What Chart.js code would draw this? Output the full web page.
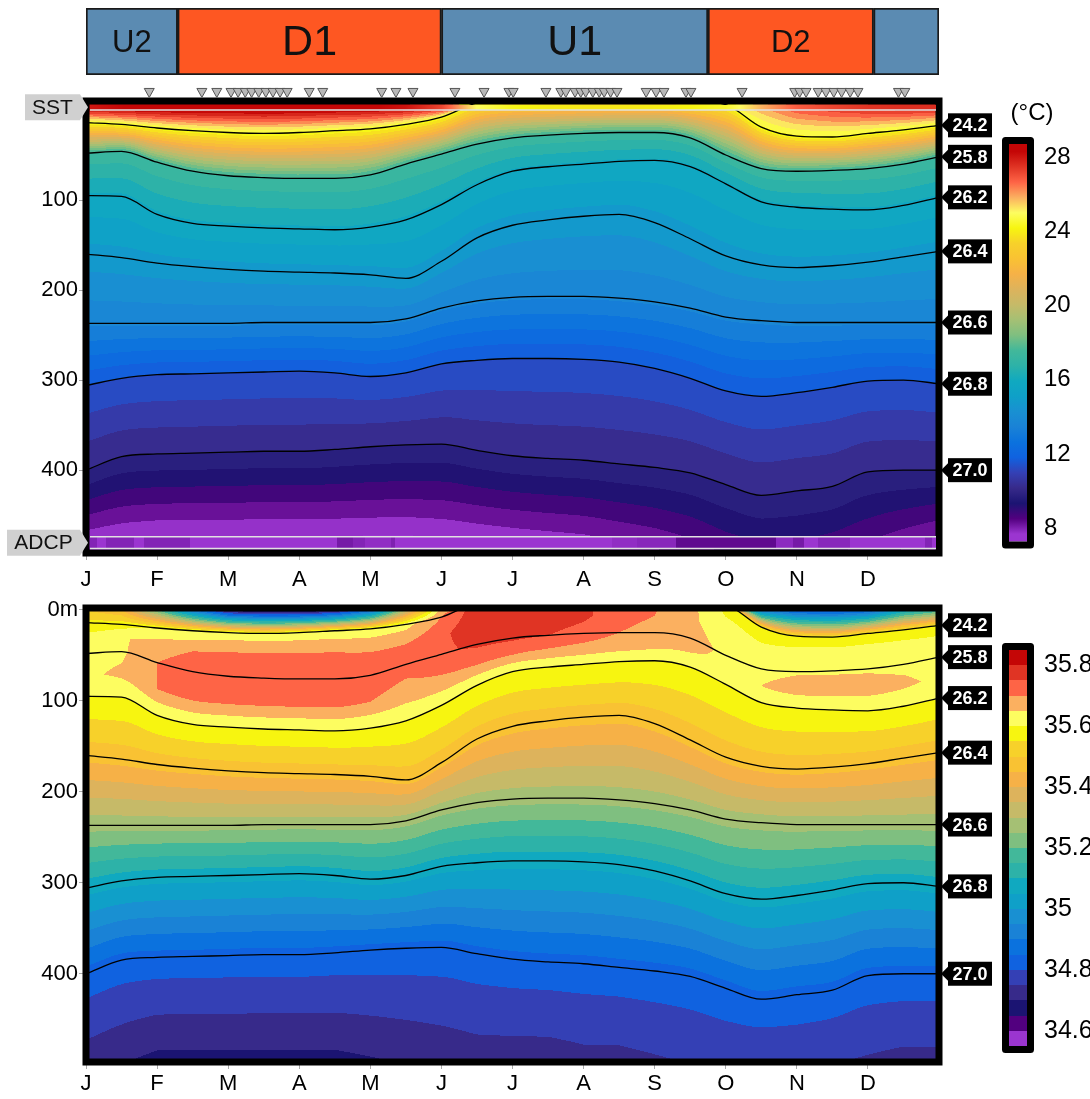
<!DOCTYPE html>
<html>
<head>
<meta charset="utf-8">
<title>Seasonal temperature and salinity section</title>
<script src="https://cdn.jsdelivr.net/npm/chart.js@4.4.1/dist/chart.umd.min.js"></script>
<style>
  body { margin: 0; background: #fff; }
  #wrap { position: relative; width: 1090px; height: 1099px; overflow: hidden; }
  #wrap canvas { position: absolute; }
</style>
</head>
<body>
<div id="wrap">
  <canvas id="phaseBar" width="1090" height="85" style="left:0px;top:0px"></canvas>
  <canvas id="tempPanel" width="1090" height="520" style="left:0px;top:80px"></canvas>
  <canvas id="saltPanel" width="1090" height="509" style="left:0px;top:590px"></canvas>
  <canvas id="tempBar" width="100" height="470" style="left:990px;top:95px"></canvas>
  <canvas id="saltBar" width="100" height="470" style="left:990px;top:600px"></canvas>
</div>
<script>
const FONT = "'Liberation Sans', Arial, Helvetica, sans-serif";
Chart.defaults.font.family = FONT;
Chart.defaults.color = '#000';

// ---- data ----
const monthLabels = ['J', 'F', 'M', 'A', 'M', 'J', 'J', 'A', 'S', 'O', 'N', 'D'];
// half-month nodes, in months from 1 Jan
const nodeMonths = [0, 0.5, 1, 1.5, 2, 2.5, 3, 3.5, 4, 4.5, 5, 5.5, 6, 6.5, 7, 7.5, 8, 8.5, 9, 9.5, 10, 10.5, 11, 11.5, 12];

// isopycnal depths (m); 24.2 sits above the surface (outcrops) Jun-Sep
const isoLabels = ['24.2', '25.8', '26.2', '26.4', '26.6', '26.8', '27.0'];
const iso242 = [14, 16, 20, 23, 25, 26, 25, 23, 21, 16, 8, -8, -12, -12, -12, -12, -12, -10, -6, 19, 29, 30, 26, 22, 17];
const iso258 = [48, 46, 58, 68, 73, 75, 76, 76, 72, 60, 49, 38, 31, 28, 26, 25, 25, 31, 50, 65, 68, 67, 65, 60, 52];
const iso262 = [95, 96, 116, 126, 129, 131, 132, 133, 130, 122, 105, 83, 68, 63, 60, 57, 56, 63, 82, 102, 108, 110, 111, 106, 97];
const iso264 = [160, 164, 170, 174, 177, 179, 180, 181, 183, 187, 168, 142, 128, 122, 118, 116, 125, 143, 162, 172, 175, 173, 169, 163, 157];
const iso266 = [237, 237, 237, 237, 237, 236, 236, 236, 236, 232, 220, 212, 208, 207, 207, 209, 213, 220, 230, 234, 236, 236, 236, 236, 236];
const iso268 = [306, 298, 294, 293, 292, 291, 290, 292, 296, 292, 282, 278, 276, 276, 277, 280, 287, 298, 312, 318, 314, 308, 301, 300, 304];
const iso270 = [400, 385, 382, 381, 380, 379, 379, 377, 374, 372, 371, 378, 384, 387, 389, 393, 397, 403, 416, 428, 423, 418, 402, 400, 400];
const isoSeries = [iso242, iso258, iso262, iso264, iso266, iso268, iso270];

// temperature (°C)
const sst = [28.0, 28.3, 28.5, 28.6, 28.6, 28.7, 28.6, 28.5, 28.4, 28.1, 27.2, 25.0, 24.3, 24.0, 23.9, 23.9, 24.0, 24.2, 24.5, 25.8, 26.8, 27.2, 27.5, 27.6, 27.6];
const isoTemp = [24.4, 17.4, 15.9, 14.8, 13.6, 11.5, 10.0];
const bottomTemp = [7.0, 6.9, 6.8, 6.8, 6.8, 6.8, 6.8, 6.8, 6.8, 6.8, 6.9, 7.0, 7.1, 7.2, 7.3, 7.5, 7.7, 8.0, 8.4, 8.6, 8.6, 8.4, 8.1, 7.7, 7.3];

// salinity
const surfSalt = [35.50, 35.45, 35.20, 34.90, 34.65, 34.60, 34.60, 34.65, 34.85, 35.30, 35.68, 35.74, 35.78, 35.78, 35.77, 35.74, 35.71, 35.66, 35.50, 34.90, 34.80, 34.78, 34.82, 35.05, 35.15];
const salt242 = [35.56, 35.58, 35.60, 35.61, 35.62, 35.62, 35.62, 35.62, 35.62, 35.63, 35.70, 35.77, 35.78, 35.78, 35.76, 35.73, 35.71, 35.67, 35.58, 35.57, 35.57, 35.57, 35.57, 35.57, 35.56];
const saltMidA = [35.62, 35.64, 35.68, 35.70, 35.71, 35.71, 35.71, 35.71, 35.70, 35.70, 35.74, 35.78, 35.78, 35.78, 35.76, 35.72, 35.70, 35.66, 35.62, 35.61, 35.62, 35.62, 35.62, 35.62, 35.62];
const salt258 = [35.63, 35.64, 35.70, 35.73, 35.74, 35.74, 35.74, 35.74, 35.73, 35.72, 35.74, 35.76, 35.76, 35.75, 35.73, 35.70, 35.68, 35.67, 35.64, 35.64, 35.645, 35.645, 35.645, 35.64, 35.63];
const saltMidB = [35.64, 35.66, 35.70, 35.71, 35.71, 35.71, 35.71, 35.71, 35.70, 35.68, 35.69, 35.70, 35.70, 35.69, 35.68, 35.67, 35.66, 35.65, 35.64, 35.65, 35.67, 35.67, 35.67, 35.66, 35.64];
const deepSalt = [35.60, 35.47, 35.27, 35.07, 34.83]; // on 26.2 .. 27.0
const bottomSalt = [34.72, 34.70, 34.68, 34.68, 34.68, 34.68, 34.68, 34.68, 34.69, 34.70, 34.71, 34.72, 34.72, 34.72, 34.73, 34.73, 34.74, 34.75, 34.76, 34.76, 34.76, 34.75, 34.74, 34.73, 34.73];

// profile casts (triangles) and the ADCP-depth temperature record
const castMonths = [0.89, 1.63, 1.84, 2.04, 2.14, 2.24, 2.33, 2.43, 2.53, 2.63, 2.73, 2.83, 3.14, 3.33, 4.16, 4.36, 4.60,
  5.19, 5.60, 5.95, 6.01, 6.47, 6.68, 6.75, 6.88, 6.96, 7.03, 7.13, 7.22, 7.29, 7.38, 7.47, 7.88, 8.02, 8.13, 8.44, 8.51,
  9.23, 9.97, 10.04, 10.13, 10.30, 10.41, 10.52, 10.63, 10.75, 10.86, 11.43, 11.52];
const adcpEdges = [0, 0.15, 0.28, 0.68, 0.82, 1.46, 3.53, 3.75, 3.92, 4.29, 4.35, 7.4, 7.75, 8.3, 9.7, 9.95, 10.1, 10.3, 10.75, 11.8, 11.9, 12];
const adcpTemp = [7.95, 7.5, 7.95, 7.5, 7.95, 7.45, 8.1, 7.95, 7.8, 8.0, 7.45, 7.8, 7.9, 8.35, 7.85, 8.1, 7.5, 7.9, 7.45, 7.95, 7.45];

// monsoon phases
const phaseNames = ['U2', 'D1', 'U1', 'D2', ''];
const phaseStart = [0, 1.29, 5.0, 8.75, 11.08];
const phaseEnd = [1.29, 5.0, 8.75, 11.08, 12];

const depthTicks = [0, 100, 200, 300, 400];
const tempTicks = [8, 12, 16, 20, 24, 28];
const saltTicks = [34.6, 34.8, 35, 35.2, 35.4, 35.6, 35.8];

// ---- colour scale ----
const palette = ['#9b35d0', '#52007f', '#1b1472', '#372a8a', '#3440b5', '#1062e0', '#0b72de', '#1a82d6', '#1990d2',
  '#0fa0c8', '#10a9c0', '#2db2a8', '#42b89a', '#7fbf80', '#a5c074', '#c6ba68', '#ddb35c', '#f6b147', '#f9c233',
  '#f7d12a', '#f7f510', '#fdfd60', '#fbb060', '#fe6446', '#e03424', '#c40606'];
const palRGB = palette.map(h => [parseInt(h.slice(1, 3), 16), parseInt(h.slice(3, 5), 16), parseInt(h.slice(5, 7), 16)]);
const TEMP_LO = 7.27, TEMP_HI = 28.73, SALT_LO = 34.55, SALT_HI = 35.85;

function tempColor(v) {
  let p = (v - TEMP_LO) / (TEMP_HI - TEMP_LO) * 26 - 0.5;
  p = Math.max(0, Math.min(25, p));
  const k = Math.min(24, Math.floor(p)), u = p - k;
  const a = palRGB[k], b = palRGB[k + 1];
  return [a[0] + (b[0] - a[0]) * u, a[1] + (b[1] - a[1]) * u, a[2] + (b[2] - a[2]) * u];
}
function saltColor(v) {
  const k = Math.max(0, Math.min(25, Math.floor((v - SALT_LO) / 0.05 + 1e-6)));
  return palRGB[k];
}
const rgb = c => `rgb(${Math.round(c[0])},${Math.round(c[1])},${Math.round(c[2])})`;

// ---- interpolation helpers ----
function lerpNodes(arr, m) {
  const t = m / 0.5;
  const k = Math.min(arr.length - 2, Math.max(0, Math.floor(t)));
  const f = t - k;
  return arr[k] * (1 - f) + arr[k + 1] * f;
}
// monotone cubic, same idea as Chart.js 'monotone' lines
function makeSpline(ys) {
  const n = ys.length, h = 0.5, dk = [], mk = new Array(n);
  for (let k = 0; k < n - 1; k++) dk.push((ys[k + 1] - ys[k]) / h);
  mk[0] = dk[0]; mk[n - 1] = dk[n - 2];
  for (let k = 1; k < n - 1; k++) mk[k] = dk[k - 1] * dk[k] <= 0 ? 0 : (dk[k - 1] + dk[k]) / 2;
  for (let k = 0; k < n - 1; k++) {
    if (dk[k] === 0) { mk[k] = 0; mk[k + 1] = 0; continue; }
    const a = mk[k] / dk[k], b = mk[k + 1] / dk[k], s = a * a + b * b;
    if (s > 9) { const t = 3 / Math.sqrt(s); mk[k] = t * a * dk[k]; mk[k + 1] = t * b * dk[k]; }
  }
  return m => {
    const k = Math.min(n - 2, Math.max(0, Math.floor(m / h)));
    const t = (m - k * h) / h, t2 = t * t, t3 = t2 * t;
    return (2 * t3 - 3 * t2 + 1) * ys[k] + (t3 - 2 * t2 + t) * h * mk[k] +
      (-2 * t3 + 3 * t2) * ys[k + 1] + (t3 - t2) * h * mk[k + 1];
  };
}
const isoSpl = isoSeries.map(makeSpline);
const clampM = m => Math.min(12, Math.max(0, m));

function pushNode(nodes, d, v) {
  if (!nodes.length || d > nodes[nodes.length - 1].d + 0.5) nodes.push({ d, v });
}
// the surface value only counts while the shallowest isopycnal is below the surface
function withSurface(nodes, v0) {
  if (nodes[0].d > 0) nodes.unshift({ d: 0, v: v0 });
  return nodes;
}
function tempNodes(m) {
  const nodes = [];
  isoSpl.forEach((f, k) => pushNode(nodes, f(m), isoTemp[k]));
  pushNode(nodes, 500, lerpNodes(bottomTemp, m));
  return withSurface(nodes, lerpNodes(sst, m));
}
function saltNodes(m) {
  const d = isoSpl.map(f => f(m));
  const nodes = [];
  pushNode(nodes, d[0], lerpNodes(salt242, m));
  pushNode(nodes, (d[0] + d[1]) / 2, lerpNodes(saltMidA, m));
  pushNode(nodes, d[1], lerpNodes(salt258, m));
  pushNode(nodes, (d[1] + d[2]) / 2, lerpNodes(saltMidB, m));
  for (let k = 2; k < 7; k++) pushNode(nodes, d[k], deepSalt[k - 2]);
  pushNode(nodes, 500, lerpNodes(bottomSalt, m));
  return withSurface(nodes, lerpNodes(surfSalt, m));
}
function profileAt(nodes, d) {
  if (d <= nodes[0].d) return nodes[0].v;
  for (let k = 1; k < nodes.length; k++) {
    if (d <= nodes[k].d) {
      const a = nodes[k - 1], b = nodes[k];
      return a.v + (b.v - a.v) * (d - a.d) / (b.d - a.d);
    }
  }
  return nodes[nodes.length - 1].v;
}

// ---- plugins ----
function fieldPlugin(kind) {
  return {
    id: 'field',
    beforeDatasetsDraw(chart) {
      const { ctx, chartArea: a, scales: { x, y } } = chart;
      const W = Math.ceil(a.right - a.left), H = Math.ceil(a.bottom - a.top);
      const img = ctx.createImageData(W, H);
      for (let i = 0; i < W; i++) {
        const m = clampM(x.getValueForPixel(a.left + i + 0.5));
        const nodes = kind === 'temp' ? tempNodes(m) : saltNodes(m);
        for (let j = 0; j < H; j++) {
          const v = profileAt(nodes, y.getValueForPixel(a.top + j + 0.5));
          const c = kind === 'temp' ? tempColor((Math.floor(v / 0.5) + 0.5) * 0.5) : saltColor(v);
          const p = (j * W + i) * 4;
          img.data[p] = c[0]; img.data[p + 1] = c[1]; img.data[p + 2] = c[2]; img.data[p + 3] = 255;
        }
      }
      const off = document.createElement('canvas');
      off.width = W; off.height = H;
      off.getContext('2d').putImageData(img, 0, 0);
      ctx.drawImage(off, a.left, a.top);
      ctx.save();
      ctx.lineWidth = 7; ctx.strokeStyle = '#000';
      ctx.strokeRect(a.left, a.top, a.right - a.left, a.bottom - a.top);
      ctx.restore();
    }
  };
}

const surfaceStrips = {
  id: 'surfaceStrips',
  afterDatasetsDraw(chart) {
    const { ctx, chartArea: a, scales: { x, y } } = chart;
    const inL = Math.round(a.left + 3.5), inR = Math.round(a.right - 3.5), top = Math.round(a.top + 3.5);
    const y0 = y.getPixelForValue(0);
    ctx.save();
    for (let px = inL; px < inR; px++) {
      ctx.fillStyle = rgb(tempColor(lerpNodes(sst, clampM(x.getValueForPixel(px + 0.5)))));
      ctx.fillRect(px, top, 1, y0 - top);
    }
    const yA = y.getPixelForValue(474), yB = y.getPixelForValue(487);
    for (let s = 0; s < adcpTemp.length; s++) {
      const x0 = Math.max(inL, Math.round(x.getPixelForValue(adcpEdges[s])));
      const x1 = Math.min(inR, Math.round(x.getPixelForValue(adcpEdges[s + 1])));
      ctx.fillStyle = rgb(tempColor(adcpTemp[s]));
      ctx.fillRect(x0, yA, x1 - x0, yB - yA);
    }
    ctx.strokeStyle = '#e2e2e2'; ctx.lineWidth = 1.5;
    [y0, yA, yB].forEach(py => { ctx.beginPath(); ctx.moveTo(inL, py); ctx.lineTo(inR, py); ctx.stroke(); });
    ctx.restore();
  },
  afterDraw(chart) {
    const { ctx, chartArea: a, scales: { x, y } } = chart;
    const tag = (text, yv, x0) => {
      const py = y.getPixelForValue(yv), x1 = a.left - 6, tip = a.left + 2;
      ctx.fillStyle = '#d0d0d0';
      ctx.beginPath();
      ctx.moveTo(x0, py - 13); ctx.lineTo(x1, py - 13); ctx.lineTo(tip, py);
      ctx.lineTo(x1, py + 13); ctx.lineTo(x0, py + 13); ctx.closePath(); ctx.fill();
      ctx.fillStyle = '#111'; ctx.font = '21px ' + FONT;
      ctx.textAlign = 'center'; ctx.textBaseline = 'middle';
      ctx.fillText(text, (x0 + x1) / 2, py + 1);
    };
    ctx.save();
    tag('SST', -3, 25);
    tag('ADCP', 480.5, 7);
    // cast markers sit above the frame, outside the plot area
    const py = y.getPixelForValue(-19.5);
    ctx.fillStyle = '#b8b8b8'; ctx.strokeStyle = '#555'; ctx.lineWidth = 1;
    castMonths.forEach(m => {
      const px = x.getPixelForValue(m);
      ctx.beginPath();
      ctx.moveTo(px - 5, py - 4); ctx.lineTo(px + 5, py - 4); ctx.lineTo(px, py + 5); ctx.closePath();
      ctx.fill(); ctx.stroke();
    });
    ctx.restore();
  }
};

const isoTags = {
  id: 'isoTags',
  afterDraw(chart) {
    const { ctx, chartArea: a, scales: { y } } = chart;
    ctx.save();
    isoSeries.forEach((arr, k) => {
      const py = y.getPixelForValue(arr[arr.length - 1]);
      const x0 = a.right + 9, w = 44, h = 24;
      ctx.fillStyle = '#000';
      ctx.beginPath();
      ctx.moveTo(a.right + 2, py); ctx.lineTo(x0 + 1, py - 8); ctx.lineTo(x0 + 1, py + 8); ctx.closePath(); ctx.fill();
      ctx.fillRect(x0, py - h / 2, w, h);
      ctx.fillStyle = '#fff'; ctx.font = 'bold 18px ' + FONT;
      ctx.textAlign = 'center'; ctx.textBaseline = 'middle';
      ctx.fillText(isoLabels[k], x0 + w / 2, py + 1);
    });
    ctx.restore();
  }
};

// ---- section panels ----
function lineSets() {
  return isoSeries.map((arr, k) => ({
    label: isoLabels[k],
    data: nodeMonths.map((m, i) => ({ x: m, y: arr[i] })),
    showLine: true, borderColor: '#000', borderWidth: 1.3, pointRadius: 0,
    cubicInterpolationMode: 'monotone', fill: false
  }));
}

function panel(id, kind, yMin, yMax, padTop, axisH, labelPad, extraPlugins) {
  return new Chart(document.getElementById(id), {
    type: 'scatter',
    data: { datasets: lineSets() },
    options: {
      responsive: false, animation: false, events: [],
      layout: { padding: { left: 0, right: 151, top: padTop, bottom: 0 } },
      scales: {
        x: {
          type: 'linear', min: 0, max: 12,
          afterBuildTicks: s => { s.ticks = monthLabels.map((_, i) => ({ value: i })); },
          afterFit: s => { s.height = axisH; },
          ticks: { font: { size: 22 }, color: '#000', padding: labelPad, maxRotation: 0, callback: v => monthLabels[v] },
          grid: { drawOnChartArea: false, tickLength: 7, color: '#aaa' },
          border: { display: false }
        },
        y: {
          type: 'linear', reverse: true, min: yMin, max: yMax,
          afterBuildTicks: s => { s.ticks = depthTicks.filter(v => kind === 'salt' || v > 0).map(v => ({ value: v })); },
          afterFit: s => { s.width = 86; },
          ticks: { font: { size: 22 }, color: '#000', padding: 1, callback: v => (v === 0 ? '0m' : v) },
          grid: { drawOnChartArea: false, tickLength: 7, color: '#aaa' },
          border: { display: false }
        }
      },
      plugins: { legend: { display: false }, tooltip: { enabled: false } }
    },
    plugins: [fieldPlugin(kind), isoTags].concat(extraPlugins)
  });
}

panel('tempPanel', 'temp', -10, 492, 21, 47, 7, [surfaceStrips]);
panel('saltPanel', 'salt', -2, 497, 18, 37, 2, []);

// ---- colour bars ----
function barFill(chart, lo, hi, stepped) {
  const y = chart.scales.y;
  if (!y || !chart.chartArea) return '#888';
  const g = chart.ctx.createLinearGradient(0, y.getPixelForValue(lo), 0, y.getPixelForValue(hi));
  palette.forEach((c, k) => {
    if (stepped) { g.addColorStop(k / 26, c); g.addColorStop((k + 1) / 26, c); }
    else g.addColorStop((k + 0.5) / 26, c);
  });
  return g;
}

const barFrame = {
  id: 'barFrame',
  afterDraw(chart, args, opts) {
    const { ctx, chartArea: a } = chart;
    ctx.save();
    ctx.lineWidth = 7; ctx.strokeStyle = '#000'; ctx.lineJoin = 'round';
    ctx.strokeRect(a.left - 3.5, a.top - 3.5, a.right - a.left + 7, a.bottom - a.top + 7);
    if (opts.unit) {
      ctx.fillStyle = '#000'; ctx.font = '24px ' + FONT;
      ctx.textAlign = 'center'; ctx.textBaseline = 'middle';
      ctx.fillText(opts.unit, a.left + 23, a.top - 31);
    }
    ctx.restore();
  }
};

function colourBar(id, lo, hi, ticks, stepped, fontSize, padTop, unit) {
  return new Chart(document.getElementById(id), {
    type: 'bar',
    data: {
      labels: [''],
      datasets: [{
        data: [[lo, hi]], borderWidth: 0, barPercentage: 1, categoryPercentage: 1,
        backgroundColor: c => barFill(c.chart, lo, hi, stepped)
      }]
    },
    options: {
      responsive: false, animation: false, events: [],
      layout: { padding: { left: 19, top: padTop, bottom: 470 - padTop - 409 } },
      scales: {
        x: { display: false },
        y: {
          position: 'right', min: lo, max: hi,
          afterBuildTicks: s => { s.ticks = ticks.map(v => ({ value: v })); },
          afterFit: s => { s.width = 63; },
          grid: { display: false }, border: { display: false },
          ticks: { font: { size: fontSize }, color: '#000', padding: 9, callback: v => String(+v.toFixed(1)) }
        }
      },
      plugins: { legend: { display: false }, tooltip: { enabled: false }, barFrame: { unit } }
    },
    plugins: [barFrame]
  });
}

colourBar('tempBar', TEMP_LO, TEMP_HI, tempTicks, false, 24, 49, '(°C)');
colourBar('saltBar', SALT_LO, SALT_HI, saltTicks, true, 25, 50, '');

// ---- phase bar ----
const phaseText = {
  id: 'phaseText',
  afterDatasetsDraw(chart) {
    const ctx = chart.ctx;
    ctx.save();
    ctx.fillStyle = '#111'; ctx.textAlign = 'center'; ctx.textBaseline = 'middle';
    chart.data.datasets.forEach((ds, i) => {
      const bar = chart.getDatasetMeta(i).data[0];
      const w = Math.abs(bar.x - bar.base);
      ctx.font = (w > 200 ? 43 : 31) + 'px ' + FONT;
      ctx.fillText(ds.label, (bar.x + bar.base) / 2, bar.y + 2);
    });
    ctx.restore();
  }
};

new Chart(document.getElementById('phaseBar'), {
  type: 'bar',
  data: {
    labels: ['phase'],
    datasets: phaseNames.map((n, i) => ({
      label: n,
      data: [[phaseStart[i], phaseEnd[i]]],
      backgroundColor: n.startsWith('D') ? '#fe5722' : '#5b8bb2',
      borderColor: '#1a1a1a', borderWidth: 2, borderSkipped: false,
      barPercentage: 1, categoryPercentage: 1, grouped: false
    }))
  },
  options: {
    indexAxis: 'y', responsive: false, animation: false, events: [],
    layout: { padding: { left: 86, right: 151, top: 8, bottom: 10 } },
    scales: { x: { type: 'linear', min: 0, max: 12, display: false }, y: { display: false } },
    plugins: { legend: { display: false }, tooltip: { enabled: false } }
  },
  plugins: [phaseText]
});
</script>
</body>
</html>
